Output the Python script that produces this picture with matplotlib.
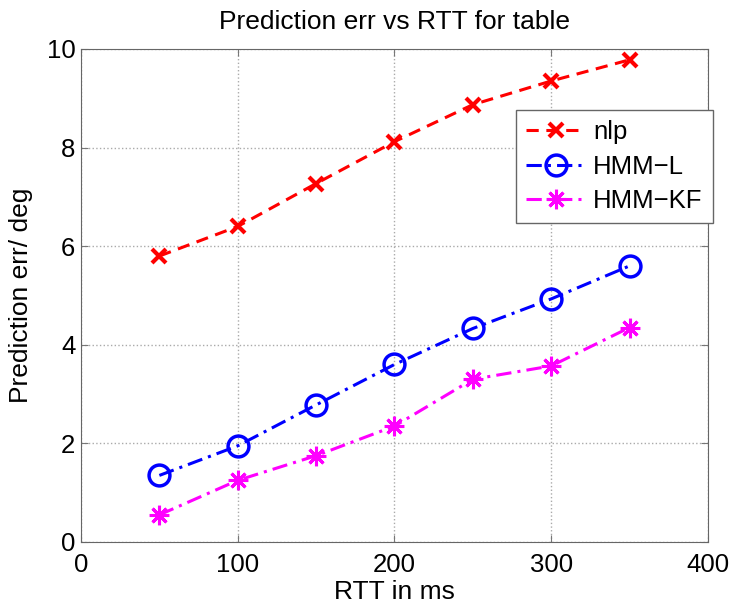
import matplotlib
matplotlib.use("Agg")
from matplotlib import pyplot as plt

rtt = [50, 100, 150, 200, 250, 300, 350]
nlp = [5.80, 6.40, 7.27, 8.12, 8.87, 9.35, 9.78]
hmm_l = [1.35, 1.95, 2.78, 3.60, 4.33, 4.93, 5.60]
hmm_kf = [0.55, 1.25, 1.75, 2.35, 3.30, 3.57, 4.35]

plt.rcParams['font.family'] = ['Liberation Sans', 'DejaVu Sans']

fig = plt.figure(figsize=(7.35, 6.08), dpi=100)
ax = fig.add_axes([0.1102, 0.1086, 0.853, 0.8109])

ax.plot(rtt, nlp, color='red', linestyle=(0, (4, 2.5)), linewidth=2.2,
        marker='x', markersize=10, markeredgewidth=3, label='nlp')
ax.plot(rtt, hmm_l, color='blue', linestyle=(0, (5, 2, 1, 2)), linewidth=2.2,
        marker='o', markersize=15, markerfacecolor='none', markeredgewidth=2.5,
        label='HMM\u2212L')
ax.plot(rtt, hmm_kf, color='magenta', linestyle=(0, (5, 2, 1, 2)), linewidth=2.2,
        marker=(8, 2, 0), markersize=14, markeredgewidth=2.2, label='HMM\u2212KF')

ax.set_xlim(0, 400)
ax.set_ylim(0, 10)
ax.set_xticks([0, 100, 200, 300, 400])
ax.set_yticks([0, 2, 4, 6, 8, 10])
ax.tick_params(direction='in', top=True, right=True, labelsize=18.5, length=5,
               color='#777777')
ax.tick_params(axis='x', pad=8)
ax.tick_params(axis='y', pad=4)
ax.grid(True, linestyle=':', color='#aaaaaa', linewidth=1)
for s in ax.spines.values():
    s.set_color('#666666')

ax.set_title("Prediction err vs RTT for table", fontsize=19, pad=14)
ax.set_xlabel("RTT in ms", fontsize=19, labelpad=2)
ax.set_ylabel("Prediction err/ deg", fontsize=19, labelpad=10)

leg = ax.legend(loc='upper right', bbox_to_anchor=(1.008, 0.876), borderaxespad=0,
                fontsize=18.5, fancybox=False, framealpha=1, edgecolor='#666666',
                handlelength=2.3, handletextpad=0.3, borderpad=0.4,
                labelspacing=0.4)
leg.get_frame().set_linewidth(1)

fig.savefig("out.png", dpi=100)
